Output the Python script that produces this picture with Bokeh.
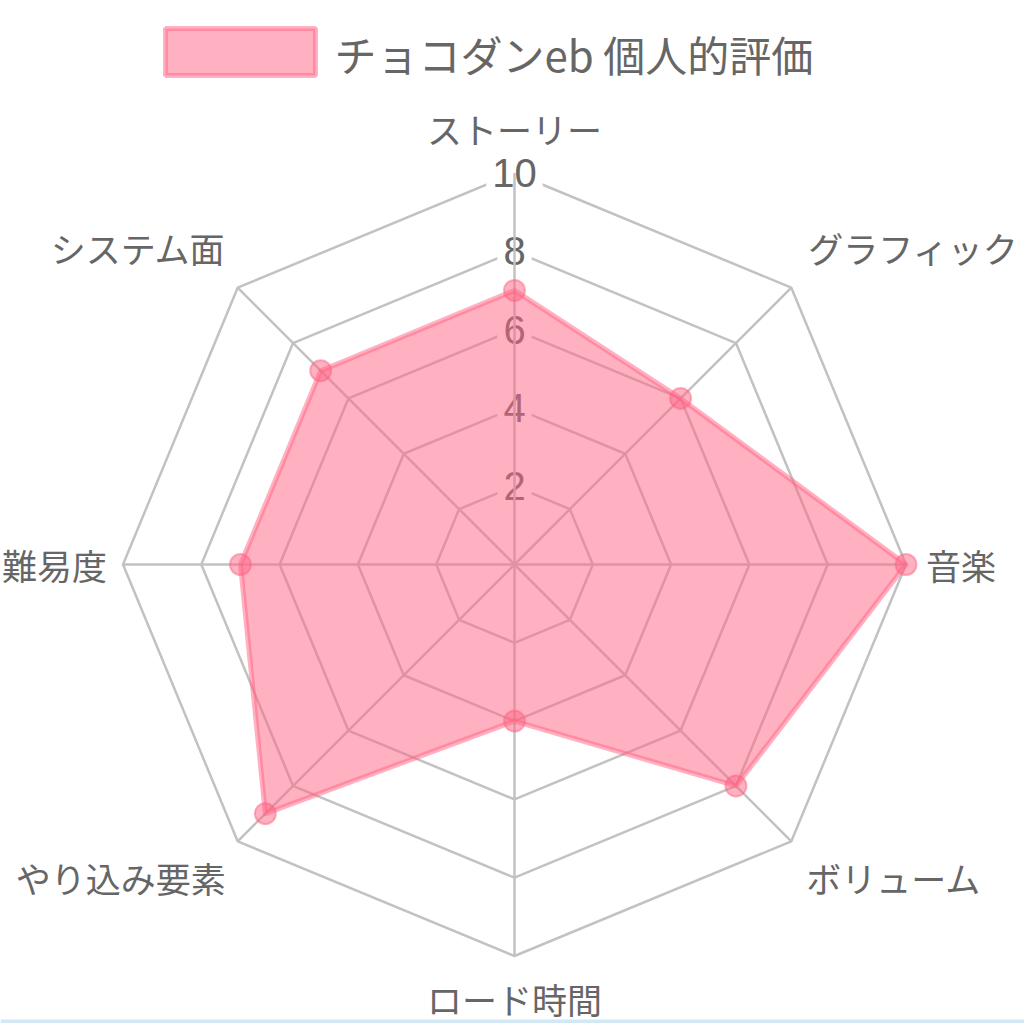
import math
from bokeh.plotting import figure
from bokeh.models import Range1d, ColumnDataSource
from bokeh.core.properties import value
from bokeh.embed import file_html
from bokeh.resources import INLINE

# ---- data ----
categories = ["ストーリー", "グラフィック", "音楽", "ボリューム", "ロード時間", "やり込み要素", "難易度", "システム面"]
scores = [7, 6, 10, 8, 4, 9, 7, 7]
series_name = "チョコダンeb 個人的評価"
tick_values = [2, 4, 6, 8, 10]
tick_labels = ["2", "4", "6", "8", "10"]
r_max = 10

# ---- layout (page pixels) ----
OX, OY = 0, 0                  # where the figure lands on the page
W, H = 1024, 1023
CX, CY = 514.0, 564.0          # radar centre on the page
S = 391.5 / r_max              # pixels per data unit

def dx(px):
    return (px - CX) / S

def dy(py):
    return (CY - py) / S

p = figure(width=W, height=H, output_backend="svg", toolbar_location=None,
           x_range=Range1d(dx(OX), dx(OX + W)), y_range=Range1d(dy(OY + H), dy(OY)),
           min_border=0, outline_line_color=None)
p.axis.visible = False
p.grid.visible = False
p.background_fill_color = "white"
p.border_fill_color = "white"

n = len(categories)
angles = [math.pi / 2 - i * 2 * math.pi / n for i in range(n)]

GRID = "#c2c2c2"
TXT = "#666666"
PINK = "rgb(255,99,132)"

# rings
for t in tick_values:
    xs = [t * math.cos(a) for a in angles]
    ys = [t * math.sin(a) for a in angles]
    p.patch(xs + [xs[0]], ys + [ys[0]], fill_alpha=0, line_color=GRID, line_width=2.5)

# tick labels with white backdrop
p.text(x=[0] * len(tick_values), y=tick_values, text=tick_labels,
       text_font=value("Liberation Sans"), text_font_size="40px", text_color=TXT,
       text_align="center", text_baseline="middle",
       background_fill_color="white", padding=6)

# angle lines
p.segment(x0=[0] * n, y0=[0] * n,
          x1=[r_max * math.cos(a) for a in angles],
          y1=[r_max * math.sin(a) for a in angles],
          line_color=GRID, line_width=2.5)

# data polygon
px_ = [v * math.cos(a) for v, a in zip(scores, angles)]
py_ = [v * math.sin(a) for v, a in zip(scores, angles)]
p.patch(px_, py_, fill_color=PINK, fill_alpha=0.5,
        line_color=PINK, line_alpha=0.5, line_width=5, line_join="round")
p.scatter(px_, py_, size=21, fill_color=PINK, fill_alpha=0.5,
          line_color=PINK, line_alpha=0.5, line_width=2)

# point labels (offsets in page pixels from the outer vertex)
offsets = [(0, -45, "center"), (17, -40, "left"), (20, 0, "left"), (15, 36, "left"),
           (0, 42, "center"), (-12, 36, "right"), (-16, 0, "right"), (-12, -40, "right")]
lx, ly, la = [], [], []
for a, (ox, oy, al) in zip(angles, offsets):
    vx = CX + r_max * S * math.cos(a)
    vy = CY - r_max * S * math.sin(a)
    lx.append(dx(vx + ox))
    ly.append(dy(vy + oy))
    la.append(al)
src = ColumnDataSource(dict(x=lx, y=ly, text=categories, align=la))
p.text(x="x", y="y", text="text", text_align="align", source=src,
       text_font=value("Noto Sans CJK JP"), text_font_size="35px",
       text_color=TXT, text_baseline="middle")

# legend
p.quad(left=[dx(165)], right=[dx(315)], top=[dy(28)], bottom=[dy(75)],
       fill_color=PINK, fill_alpha=0.5, line_color=PINK, line_alpha=0.5, line_width=5)
p.text(x=[dx(334)], y=[dy(53)], text=[series_name],
       text_font=value("Noto Sans CJK JP"), text_font_size="42px",
       text_color=TXT, text_align="left", text_baseline="middle")

# thin light-blue strip at the bottom of the page
p.quad(left=[dx(0)], right=[dx(1024)], top=[dy(1019)], bottom=[dy(1023)],
       fill_color="#d3e8f5", line_color=None)

open("out.html", "w").write(file_html(p, INLINE))
